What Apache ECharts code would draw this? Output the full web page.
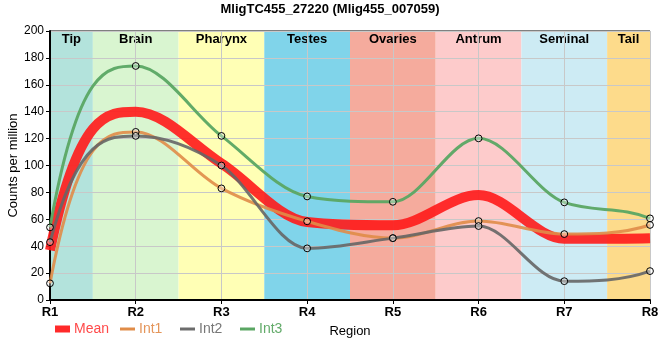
<!DOCTYPE html>
<html><head><meta charset="utf-8">
<script src="https://cdn.jsdelivr.net/npm/echarts@6/dist/echarts.min.js"></script>
<style>html,body{margin:0;padding:0;background:#fff}#c{width:660px;height:360px}</style>
</head><body><div id="c"></div>
<script>
const regions = ['R1','R2','R3','R4','R5','R6','R7','R8'];
const tissues = ['Tip','Brain','Pharynx','Testes','Ovaries','Antrum','Seminal','Tail'];
const tissueStart = [0, 0.5, 1.5, 2.5, 3.5, 4.5, 5.5, 6.5];
const tissueEnd = [0.5, 1.5, 2.5, 3.5, 4.5, 5.5, 6.5, 7];
const tissueColors = ['#b3e3dc','#d9f5d0','#ffffb5','#80d4ea','#f5ab9d','#fdcbcb','#cdebf4','#fddb8b'];
const meanVals = [37, 140, 101.5, 58, 55.5, 78, 45.5, 46];
const int1Vals = [12.4, 125, 83, 58.5, 46, 58.7, 49, 55.8];
const int2Vals = [43, 122, 100, 38.4, 46, 55, 14, 21.5];
const int3Vals = [54, 174, 122, 77, 73, 120.2, 72.6, 60.7];
const yTicks = [0, 200, 20];

const FONT = 'Liberation Sans, Arial, sans-serif';
const pairs = arr => arr.map((v, i) => [i, v]);

// monotone (Fritsch-Carlson) tangents in data space
function tangents(y) {
  const n = y.length, d = [], m = new Array(n).fill(0);
  for (let k = 0; k < n - 1; k++) d.push(y[k + 1] - y[k]);
  m[0] = 3 * d[0]; m[n - 1] = 3 * d[n - 2];
  for (let k = 1; k < n - 1; k++) m[k] = d[k - 1] * d[k] <= 0 ? 0 : (d[k - 1] + d[k]) / 2;
  for (let k = 0; k < n - 1; k++) {
    if (d[k] === 0) { m[k] = 0; m[k + 1] = 0; continue; }
    const a = m[k] / d[k], b = m[k + 1] / d[k], s = a * a + b * b;
    if (s > 9) { const t = 3 / Math.sqrt(s); m[k] = t * a * d[k]; m[k + 1] = t * b * d[k]; }
  }
  return m;
}
function curveSeries(name, vals, color, width, withSym, z, opacity) {
  const m = tangents(vals);
  return {
    name, type: 'custom', coordinateSystem: 'cartesian2d', data: pairs(vals), z,
    encode: {x: 0, y: 1}, itemStyle: {color}, silent: true,
    renderItem(params, api) {
      const i = params.dataIndex;
      const children = [];
      if (i === 0) {
        const p0 = api.coord([0, vals[0]]);
        let d = 'M' + p0[0] + ' ' + p0[1];
        for (let k = 0; k < vals.length - 1; k++) {
          const c1 = api.coord([k + 1 / 3, vals[k] + m[k] / 3]);
          const c2 = api.coord([k + 2 / 3, vals[k + 1] - m[k + 1] / 3]);
          const e = api.coord([k + 1, vals[k + 1]]);
          d += ' C' + c1[0] + ' ' + c1[1] + ' ' + c2[0] + ' ' + c2[1] + ' ' + e[0] + ' ' + e[1];
        }
        children.push({type: 'path', shape: {pathData: d},
          style: {fill: null, stroke: color, lineWidth: width, opacity, lineJoin: 'round'}});
      }
      if (withSym) {
        const c = api.coord([api.value(0), api.value(1)]);
        children.push({type: 'circle', shape: {cx: c[0], cy: c[1], r: 3.4},
          style: {fill: 'rgba(255,255,255,0.35)', stroke: '#000', lineWidth: 1}});
      }
      return {type: 'group', children};
    }
  };
}
function legendFor(name, left, color, textColor, h) {
  return {data: [name], left, top: 322, itemWidth: 15, itemHeight: h, icon: 'rect',
    itemGap: 4, padding: 0, selectedMode: false,
    itemStyle: {color, borderWidth: 0},
    textStyle: {color: textColor, fontSize: 14, fontFamily: FONT, padding: [0, 0, 0, -1]}};
}
const chart = echarts.init(document.getElementById('c'), null, {renderer: 'canvas'});
chart.setOption({
  animation: false,
  title: {text: 'MligTC455_27220 (Mlig455_007059)', left: 'center', top: 3, padding: 0,
    textStyle: {fontSize: 13, fontWeight: 'bold', color: '#000', fontFamily: FONT}},
  grid: {left: 50, right: 10, top: 31, bottom: 60, containLabel: false, outerBoundsMode: 'none',
    show: true, borderColor: '#000', borderWidth: 1, backgroundColor: 'transparent'},
  legend: [
    legendFor('Mean', 55, '#ff2a2a', '#ff4a4a', 7),
    legendFor('Int1', 120, '#e08c48', '#e4955a', 3),
    legendFor('Int2', 180, '#6c6c6c', '#777777', 3),
    legendFor('Int3', 240, '#5aa663', '#63ab6a', 3)
  ],
  xAxis: {type: 'value', min: 0, max: 7, interval: 1, z: 1.5,
    name: 'Region', nameLocation: 'middle', nameGap: 25, nameMoveOverlap: false,
    nameTextStyle: {fontSize: 13, color: '#000', fontFamily: FONT},
    axisLine: {lineStyle: {color: '#000', width: 2}},
    axisTick: {show: true, length: 4, lineStyle: {color: '#000'}},
    axisLabel: {formatter: v => regions[v] || '', fontWeight: 'bold', fontSize: 13, color: '#000', margin: 6, fontFamily: FONT},
    splitLine: {show: true, lineStyle: {color: '#c8c8c8', width: 1}}},
  yAxis: {type: 'value', min: yTicks[0], max: yTicks[1], interval: yTicks[2], z: 1.5,
    name: 'Counts per million', nameLocation: 'middle', nameGap: 30, nameMoveOverlap: false,
    nameTextStyle: {fontSize: 13, color: '#000', fontFamily: FONT},
    axisLine: {show: true, lineStyle: {color: '#000', width: 2}},
    axisTick: {show: true, length: 4, lineStyle: {color: '#000'}},
    axisLabel: {fontSize: 12, color: '#000', margin: 6, fontFamily: FONT},
    splitLine: {show: true, lineStyle: {color: '#c8c8c8', width: 1}}},
  series: [
    {name: 'bands', type: 'line', data: [], z: 1, silent: true,
      markArea: {silent: true,
        label: {position: 'insideTop', distance: 2, fontWeight: 'bold', fontSize: 13, color: '#000', fontFamily: FONT},
        data: tissues.map((t, i) => [
          {name: t, xAxis: tissueStart[i], yAxis: yTicks[1], itemStyle: {color: tissueColors[i], opacity: 1}},
          {xAxis: tissueEnd[i], yAxis: yTicks[0]}
        ])}},
    curveSeries('Mean', meanVals, '#ff1a1a', 10, false, 2, 0.9),
    curveSeries('Int1', int1Vals, '#e08c48', 3, true, 3, 0.9),
    curveSeries('Int2', int2Vals, '#666666', 3, true, 4, 0.9),
    curveSeries('Int3', int3Vals, '#5aa663', 3, true, 5, 0.95)
  ]
});
</script></body></html>
